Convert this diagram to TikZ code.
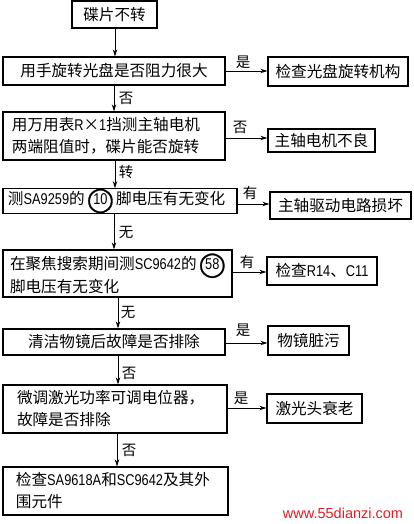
\documentclass[tikz,border=0pt]{standalone}
\usepackage{fontspec}
\setmainfont{Noto Sans CJK SC}
\newfontfamily\latn[FakeStretch=0.82]{Liberation Sans}
\newfontfamily\wmfont{Liberation Sans}
\newfontfamily\circfont[FakeBold=1.2]{DejaVu Sans}
\usetikzlibrary{arrows.meta}
\newcommand\lt[1]{{\latn #1}}
\newcommand\circnum[1]{\makebox[21pt]{\rlap{\makebox[21pt]{\raisebox{-2.8pt}{\circfont\fontsize{24}{24}\selectfont ◯}}}\makebox[21pt]{\latn #1}}}
\tikzset{
  box/.style={draw, line width=1.3pt, inner ysep=0pt, font=\fontsize{15.6}{22}\selectfont},
  lbox/.style={box, align=left},
  cbox/.style={box, align=center},
  arr/.style={line width=0.8pt, -{Stealth[length=7pt,width=4.5pt]}},
  lab/.style={font=\fontsize{14.5}{15}\selectfont, inner sep=0pt}
}
\begin{document}
\begin{tikzpicture}[x=1pt,y=-1pt]
\useasboundingbox[fill=white] (0,0) rectangle (413,524);
% main column
\node[cbox, minimum width=85, minimum height=27] (b1) at (114.5,14.5) {碟片不转};
\node[cbox, minimum width=222, minimum height=28] (b2) at (114,71) {用手旋转光盘是否阻力很大};
\node[lbox, minimum width=222, minimum height=48, inner xsep=9, text width=204] (b3) at (114,136) {用万用表\lt{R}×\lt{1}挡测主轴电机\\两端阻值时，碟片能否旋转};
\node[lbox, minimum width=234, minimum height=24, inner xsep=5, text width=224] (b4) at (120,201) {测\lt{SA9259}的 \circnum{10} 脚电压有无变化};
\node[lbox, minimum width=229, minimum height=47, inner xsep=7, text width=215] (b5) at (117.5,273.5) {在聚焦搜索期间测\lt{SC9642}的 \circnum{58}\\脚电压有无变化};
\node[cbox, minimum width=222, minimum height=26] (b6) at (114,342) {清洁物镜后故障是否排除};
\node[lbox, minimum width=224, minimum height=48, inner xsep=14, text width=196] (b7) at (115,409) {微调激光功率可调电位器，\\故障是否排除};
\node[lbox, minimum width=225, minimum height=48, inner xsep=13, text width=199] (b8) at (115.5,491) {检查\lt{SA9618A}和\lt{SC9642}及其外\\围元件};
% right column
\node[cbox, minimum width=140, minimum height=29] (r2) at (338,71.5) {检查光盘旋转机构};
\node[cbox, minimum width=107, minimum height=23] (r3) at (321.5,140.5) {主轴电机不良};
\node[cbox, minimum width=141, minimum height=27] (r4) at (340.5,205.5) {主轴驱动电路损坏};
\node[cbox, minimum width=110, minimum height=28] (r5) at (322,271) {检查\lt{R14}、\lt{C11}};
\node[cbox, minimum width=81, minimum height=29] (r6) at (308.5,340.5) {物镜脏污};
\node[cbox, minimum width=95, minimum height=29] (r7) at (314.5,408.5) {激光头衰老};
% vertical arrows
\draw[arr] (b1.south -| 115,0) -- (b2.north -| 115,0);
\draw[arr] (b2.south -| 114,0) -- (b3.north -| 114,0);
\draw[arr] (b3.south -| 115,0) -- (b4.north -| 115,0);
\draw[arr] (b4.south -| 114,0) -- (b5.north -| 114,0);
\draw[arr] (b5.south -| 118,0) -- (b6.north -| 118,0);
\draw[arr] (b6.south -| 118,0) -- (b7.north -| 118,0);
\draw[arr] (b7.south -| 117,0) -- (b8.north -| 117,0);
% horizontal arrows
\draw[arr] (b2.east |- 0,71) -- (r2.west |- 0,71);
\draw[arr] (b3.east |- 0,138) -- (r3.west |- 0,138);
\draw[arr] (b4.east |- 0,204) -- (r4.west |- 0,204);
\draw[arr] (b5.east |- 0,272) -- (r5.west |- 0,272);
\draw[arr] (b6.east |- 0,343) -- (r6.west |- 0,343);
\draw[arr] (b7.east |- 0,408) -- (r7.west |- 0,408);
% labels
\node[lab] (l1) at (243,62) {是};
\node[lab] (l2) at (126,98) {否};
\node[lab] (l3) at (240,127) {否};
\node[lab] (l4) at (126,172) {转};
\node[lab] (l5) at (250,193) {有};
\node[lab] (l6) at (126,232) {无};
\node[lab] (l7) at (247,262) {有};
\node[lab] (l8) at (128,312) {无};
\node[lab] (l9) at (243,330) {是};
\node[lab] (l10) at (129,373) {否};
\node[lab] (l11) at (241,398) {是};
\node[lab] (l12) at (129,450) {否};
% watermark
\node[font=\wmfont\fontsize{14.5}{15}\selectfont, text={rgb,255:red,220;green,30;blue,40}, inner sep=0pt] (wm) at (343,513) {www.55dianzi.com};
\end{tikzpicture}
\end{document}
